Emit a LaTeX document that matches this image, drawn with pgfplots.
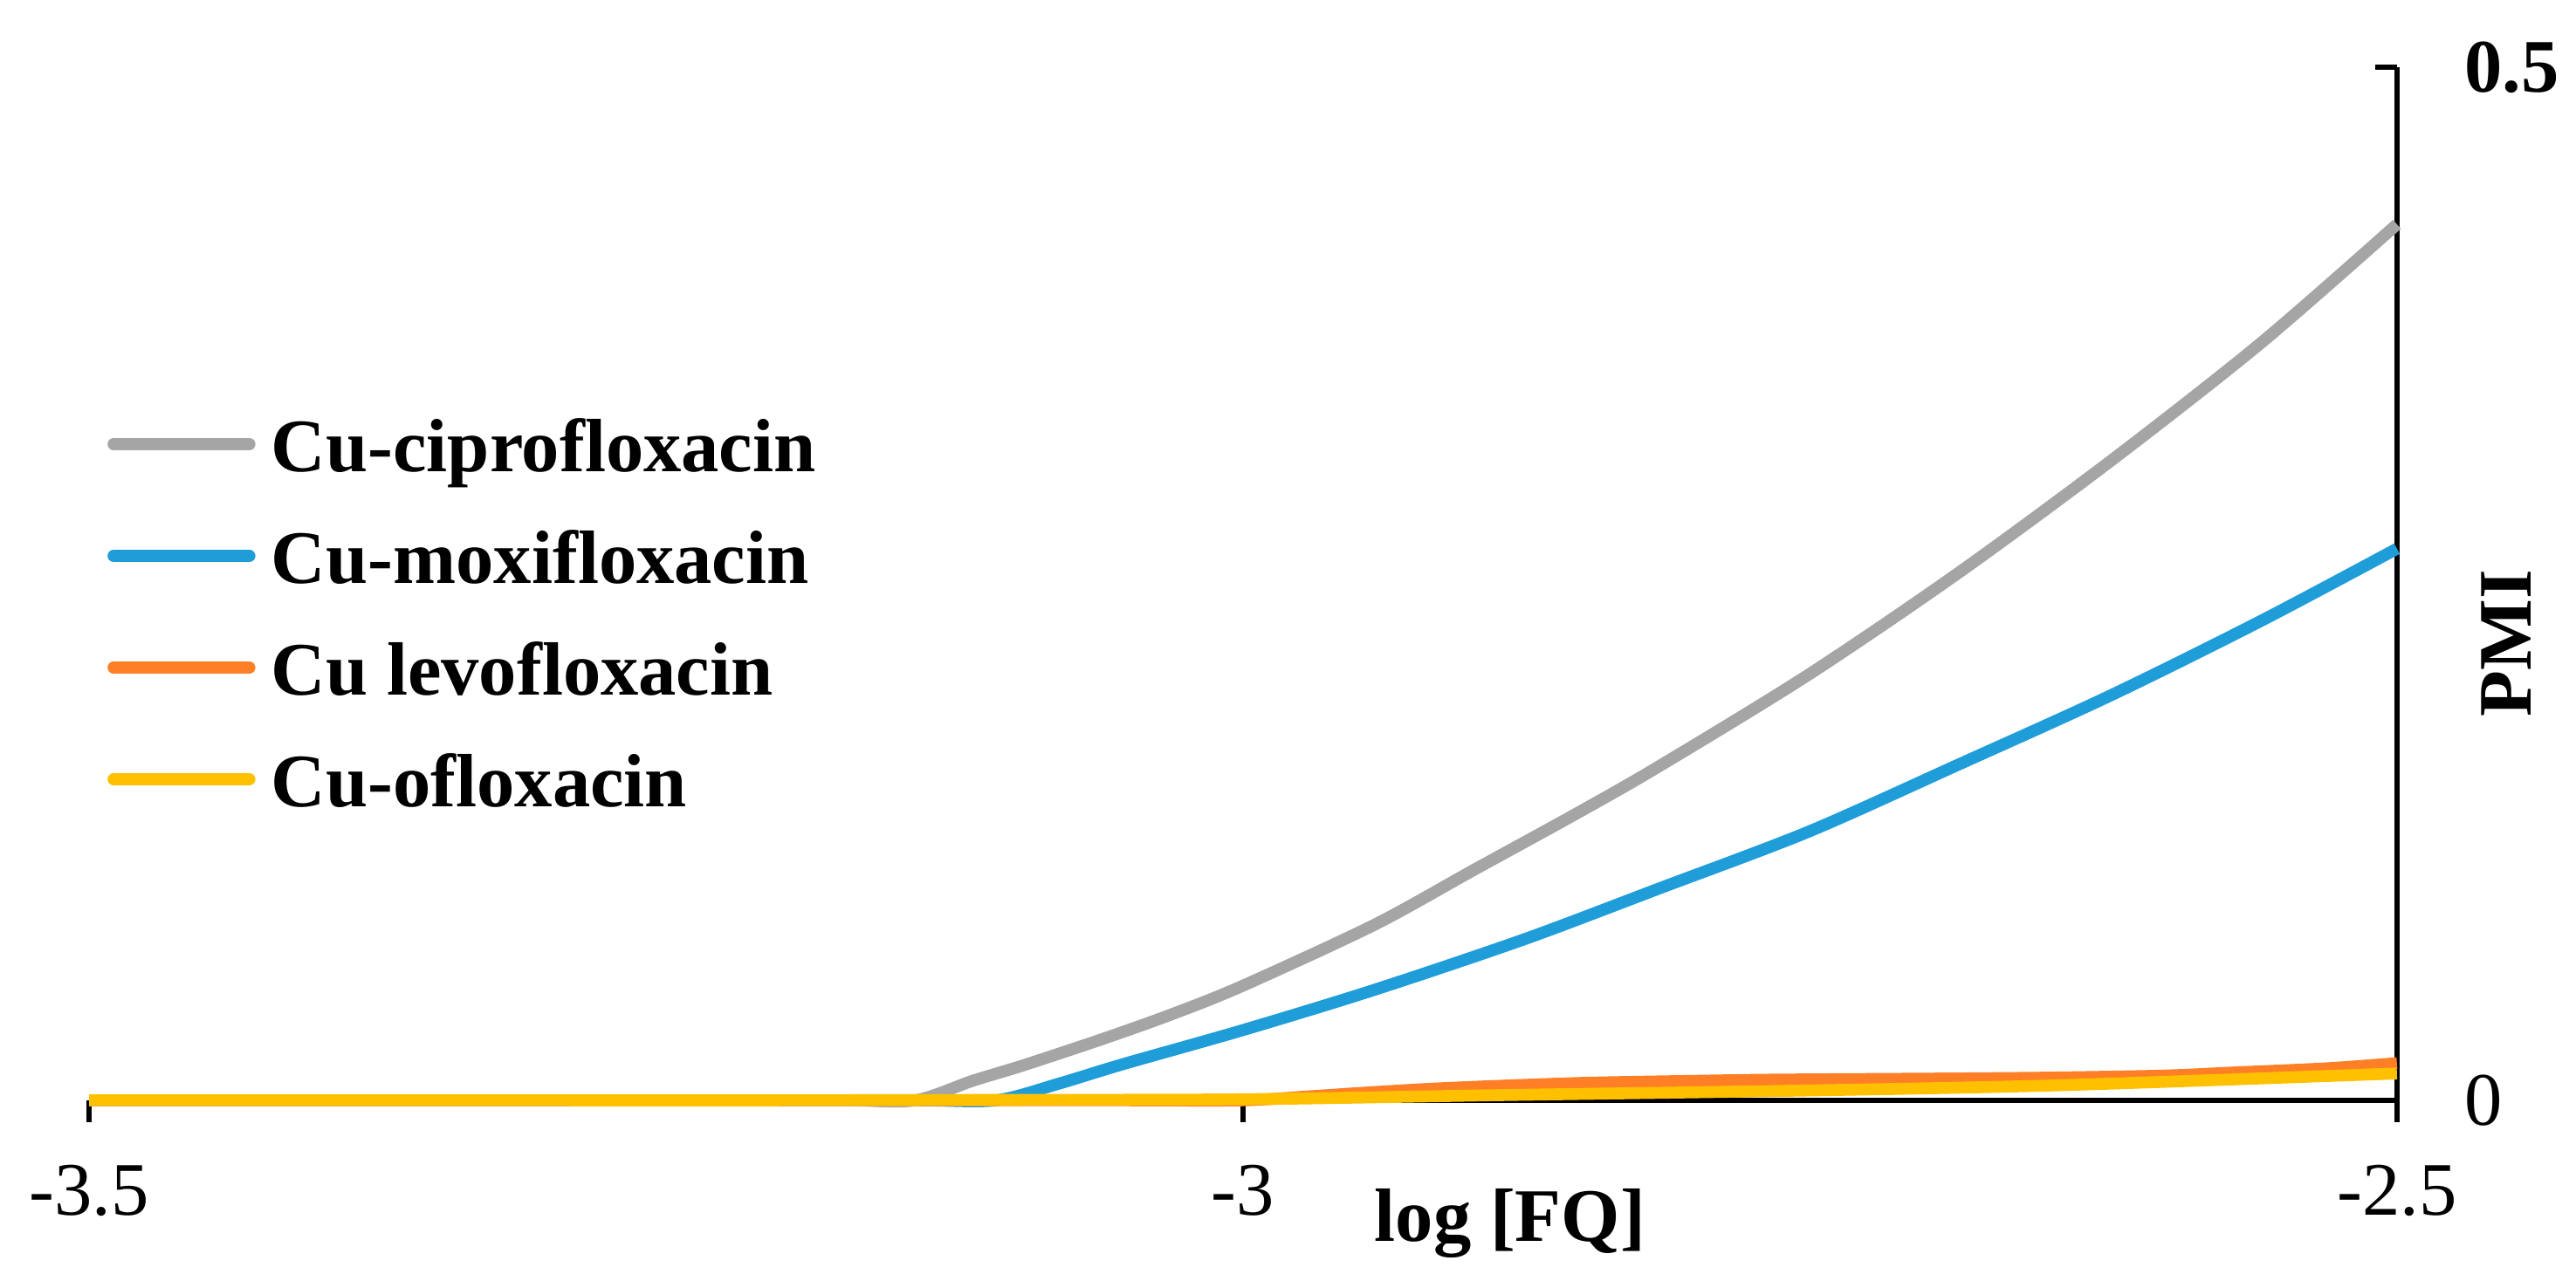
\documentclass[border=0pt]{standalone}
\usepackage{fontspec}
\setmainfont{Liberation Serif}
\usepackage{pgfplots}
\pgfplotsset{compat=1.18}
\definecolor{cgray}{HTML}{A5A5A5}
\definecolor{cblue}{HTML}{1F9DD9}
\definecolor{corange}{HTML}{FF7F27}
\definecolor{cyellow}{HTML}{FFC000}
\begin{document}
\begin{tikzpicture}[font=\fontsize{18.4}{22}\selectfont]
\begin{axis}[
  name=ax,
  scale only axis,
  width=561.9pt, height=251.6pt,
  xmin=-3.5, xmax=-2.5, ymin=0, ymax=0.5,
  clip=false,
  axis x line=bottom, axis y line=right,
  axis line style={line width=1.4pt, -, black},
  xtick={-3.5,-3,-2.5}, xticklabels={-3.5,-3,-2.5},
  ytick={0,0.5}, yticklabels={0,\textbf{0.5}},
  major tick length=5.3pt,
  xtick align=outside, ytick align=inside,
  major tick style={line width=1.4pt, black},
  minor tick num=0,
  xticklabel style={anchor=base, yshift=-22.75pt},
  yticklabel style={anchor=west, inner sep=0pt, xshift=16.3pt},
  xlabel={\textbf{log [FQ]}},
  every axis x label/.style={at={(axis description cs:0.6157,0)}, anchor=base, yshift=-34.4pt},
  ylabel={\textbf{PMI}},
  every axis y label/.style={at={(axis description cs:1,0.4426)}, anchor=center, xshift=26.7pt, rotate=90},
  legend cell align=left,
  legend style={at={(axis description cs:0.008,0.6615)}, anchor=north west,
    draw=none, fill=none, inner sep=0pt, outer sep=0pt,
    row sep=13.95pt, column sep=3.9pt,
    nodes={inner sep=0pt, text height=13.25pt, text depth=0pt},
    font=\fontsize{18.4}{22}\selectfont\bfseries},
  legend image code/.code={\draw[line width=2.9pt, line cap=round] (0pt,0pt) -- (33.1pt,0pt);},
  every axis plot/.append style={line width=2.9pt, line join=round, smooth, tension=0.5},
]
\addplot[cgray] coordinates {
 (-3.5,0) (-3.4,0) (-3.3,0) (-3.2,0) (-3.17,0) (-3.142,0) (-3.117,0.0095) (-3.095,0.017) (-3.06,0.030) (-3.03,0.042) (-3.0,0.0555)
 (-2.943,0.085) (-2.9,0.1115) (-2.856,0.1385) (-2.82,0.1615) (-2.755,0.206)
 (-2.69,0.2553) (-2.624,0.3095) (-2.559,0.3665) (-2.5,0.424)};
\addlegendentry{Cu-ciprofloxacin}
\addplot[cblue] coordinates {
 (-3.5,0) (-3.4,0) (-3.3,0) (-3.2,0) (-3.14,0) (-3.107,0) (-3.08,0.008) (-3.052,0.0175) (-3.0,0.034)
 (-2.943,0.0535) (-2.878,0.078) (-2.82,0.1024) (-2.755,0.130) (-2.69,0.1625)
 (-2.624,0.196) (-2.559,0.232) (-2.5,0.267)};
\addlegendentry{Cu-moxifloxacin}
\addplot[corange] coordinates {
 (-3.5,0) (-3.4,0) (-3.3,0) (-3.2,0) (-3.1,0) (-3.05,0) (-3.0,0) (-2.97,0.002) (-2.95,0.0035) (-2.92,0.0055) (-2.889,0.007) (-2.85,0.0085)
 (-2.8,0.0095) (-2.769,0.010) (-2.7,0.0105) (-2.649,0.011) (-2.6,0.012) (-2.57,0.0135) (-2.53,0.0155) (-2.5,0.018)};
\addlegendentry{Cu levofloxacin}
\addplot[cyellow] coordinates {
 (-3.5,0) (-3.4,0) (-3.3,0) (-3.2,0) (-3.1,0.0002) (-3.0,0.0005) (-2.889,0.0025) (-2.769,0.0045) (-2.649,0.0072) (-2.5,0.013)};
\addlegendentry{Cu-ofloxacin}
\end{axis}
\pgfresetboundingbox
\path[use as bounding box] ([xshift=-21.7pt,yshift=-44.0pt]ax.south west) rectangle ([xshift=43.6pt,yshift=16.4pt]ax.north east);
\end{tikzpicture}
\end{document}
